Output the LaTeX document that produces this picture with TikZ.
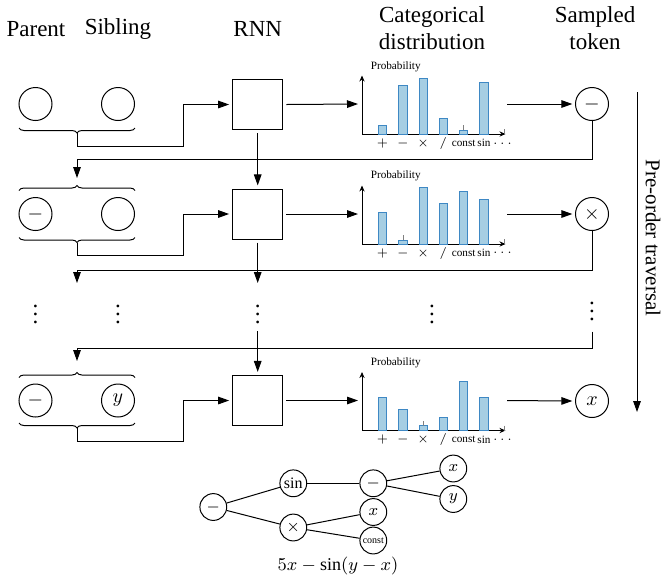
\documentclass[tikz,border=0pt]{standalone}
\usepackage{fontspec}
\setmainfont{Liberation Serif}
\usetikzlibrary{arrows.meta,decorations.pathreplacing}
\definecolor{barfill}{RGB}{166,206,227}
\definecolor{barline}{RGB}{62,136,196}

\begin{document}
\begin{tikzpicture}[x=0.5pt,y=-0.5pt,line width=0.5pt]
    \tikzstyle{every node}+=[inner sep=0pt]
    \tikzstyle{head}=[font=\fontsize{11.5}{13.5}\selectfont,align=center]
    \tikzstyle{tok}=[draw,circle,minimum size=16.5pt,outer sep=1.6pt,font=\fontsize{10}{12}\selectfont]
    \tikzstyle{rnn}=[draw,minimum size=25pt,outer sep=1.8pt]
    \tikzstyle{leaf}=[draw,circle,minimum size=13.4pt,font=\fontsize{8}{10}\selectfont]
    \tikzstyle{bar}=[draw=barline,fill=barfill,line width=0.5pt]
    \tikzstyle{tick}=[gray,line width=0.3pt]
    \tikzstyle{flow}=[-{Triangle[length=5.5pt,width=3.8pt]}]
    \tikzstyle{axis}=[line width=0.4pt,-{Stealth[length=3pt,width=2.6pt]}]
    \tikzstyle{cue}=[font=\fontsize{5.6}{6}\selectfont]
    \tikzstyle{sym}=[font=\fontsize{6.5}{7}\selectfont]
    \tikzstyle{word}=[font=\fontsize{5.6}{6}\selectfont]
    \tikzstyle{wrapup}=[decorate,decoration={brace,amplitude=2.5pt}]
    \tikzstyle{wrapdown}=[decorate,decoration={brace,mirror,amplitude=2.5pt}]
    \useasboundingbox (0,0) rectangle (663,580);
    % column heads
    \node[head] (parhead) at (36,29) {Parent};
    \node[head] (sibhead) at (118,29) {Sibling};
    \node[head] (rnnhead) at (257.7,29) {RNN};
    \node[head] (disthead) at (432,28.5) {Categorical\\distribution};
    \node[head] (tokhead) at (595,28.5) {Sampled\\token};
    % first step
    \node[tok] (par1) at (35.5,104) {};
    \node[tok] (sib1) at (118,104) {};
    \draw[wrapdown] (19,128) -- (135,128);
    \coordinate (pb1) at (77,133);
    \node[rnn] (rnn1) at (257.7,104.5) {};
    \draw[flow] (pb1) -- (77,146) -- (183.7,146) |- (rnn1.west);
    \coordinate (din1) at (358,104);
    \coordinate (dout1) at (507,104);
    \draw[flow] (rnn1.east) -- (din1);
    \draw[axis] (362,134) -- (362,75.5);
    \draw[axis] (362,134) -- (505.5,134);
    \draw[tick] (504,129) -- (504,134);
    \draw[bar] (378.4,134) rectangle (386.7,125.7);
    \draw[bar] (398.7,134) rectangle (407,85.7);
    \draw[bar] (419,134) rectangle (427.3,78);
    \draw[bar] (439.3,134) rectangle (447.6,118);
    \draw[bar] (459.6,134) rectangle (467.9,130.3);
    \draw[bar] (479.9,134) rectangle (488.2,82);
    \draw[tick] (463.7,130.3) -- (463.7,125.3);
    \node[cue] (prob1) at (395.7,66.5) {Probability};
    \node[sym] (lplus1) at (382.5,143.3) {$+$};
    \node[sym] (lminus1) at (402.8,143.3) {$-$};
    \node[sym] (ltimes1) at (423.1,143.3) {$\times$};
    \node[sym] (ldiv1) at (443.4,143.3) {$/$};
    \node[word] (lconst1) at (463.7,143.3) {const};
    \node[word] (lsin1) at (484,143.3) {sin};
    \node[sym] (ldots1) at (502.5,143.3) {$\dots$};
    \node[tok] (out1) at (592,104) {$-$};
    \draw[flow] (dout1) -- (out1.west);
    % second step
    \coordinate (pt2) at (77,186);
    \draw[flow,shorten <=-1.6pt,shorten >=4pt] (out1.south) -- (592,159) -| (pt2);
    \draw[wrapup] (19,190.5) -- (135,190.5);
    \node[tok] (par2) at (35.5,214) {$-$};
    \node[tok] (sib2) at (118,214) {};
    \draw[wrapdown] (19,237.5) -- (135,237.5);
    \coordinate (pb2) at (77,242.5);
    \node[rnn] (rnn2) at (257.7,214) {};
    \draw[flow] (rnn1.south) -- (rnn2.north);
    \draw[flow] (pb2) -- (77,255) -- (183.7,255) |- (rnn2.west);
    \coordinate (din2) at (358,214);
    \coordinate (dout2) at (507,214);
    \draw[flow] (rnn2.east) -- (din2);
    \draw[axis] (362,244) -- (362,185.5);
    \draw[axis] (362,244) -- (505.5,244);
    \draw[tick] (504,239) -- (504,244);
    \draw[bar] (378.4,244) rectangle (386.7,212);
    \draw[bar] (398.7,244) rectangle (407,240);
    \draw[bar] (419,244) rectangle (427.3,187.7);
    \draw[bar] (439.3,244) rectangle (447.6,203.7);
    \draw[bar] (459.6,244) rectangle (467.9,191.7);
    \draw[bar] (479.9,244) rectangle (488.2,199.3);
    \draw[tick] (402.8,240) -- (402.8,235);
    \node[cue] (prob2) at (395.7,176) {Probability};
    \node[sym] (lplus2) at (382.5,253) {$+$};
    \node[sym] (lminus2) at (402.8,253) {$-$};
    \node[sym] (ltimes2) at (423.1,253) {$\times$};
    \node[sym] (ldiv2) at (443.4,253) {$/$};
    \node[word] (lconst2) at (463.7,253) {const};
    \node[word] (lsin2) at (484,253) {sin};
    \node[sym] (ldots2) at (502.5,253) {$\dots$};
    \node[tok] (out2) at (592,214) {$\times$};
    \draw[flow] (dout2) -- (out2.west);
    % skipped steps
    \coordinate (pd) at (77,283);
    \coordinate (rd) at (257.7,283);
    \draw[flow,shorten <=-1.6pt] (out2.south) -- (592,270) -| (pd);
    \draw[flow] (rnn2.south) -- (rd);
    \node[head] (dotpar) at (35.5,308) {$\vdots$};
    \node[head] (dotsib) at (118,308) {$\vdots$};
    \node[head] (dotrnn) at (257.7,308) {$\vdots$};
    \node[head] (dotdist) at (432,308) {$\vdots$};
    \node[head] (dotout) at (592,305) {$\vdots$};
    \coordinate (rc) at (592,331.5);
    \coordinate (ru) at (257.7,331);
    % last step
    \coordinate (pt3) at (77,373);
    \draw[flow,shorten >=6pt] (rc) -- (592,348.5) -| (pt3);
    \draw[wrapup] (19,377.5) -- (135,377.5);
    \node[tok] (par3) at (35.5,400.5) {$-$};
    \node[tok] (sib3) at (118,400.5) {$y$};
    \draw[wrapdown] (19,423) -- (135,423);
    \coordinate (pb3) at (77,428);
    \node[rnn] (rnn3) at (257.7,400.5) {};
    \draw[flow] (ru) -- (rnn3.north);
    \draw[flow] (pb3) -- (77,441.7) -- (183.7,441.7) |- (rnn3.west);
    \coordinate (din3) at (358,400.5);
    \coordinate (dout3) at (507,400.5);
    \draw[flow] (rnn3.east) -- (din3);
    \draw[axis] (362,430.5) -- (362,372);
    \draw[axis] (362,430.5) -- (505.5,430.5);
    \draw[tick] (504,425.5) -- (504,430.5);
    \draw[bar] (378.4,430.5) rectangle (386.7,397.8);
    \draw[bar] (398.7,430.5) rectangle (407,409.8);
    \draw[bar] (419,430.5) rectangle (427.3,425.8);
    \draw[bar] (439.3,430.5) rectangle (447.6,417.8);
    \draw[bar] (459.6,430.5) rectangle (467.9,381.8);
    \draw[bar] (479.9,430.5) rectangle (488.2,397.8);
    \draw[tick] (423.1,425.8) -- (423.1,420.8);
    \node[cue] (prob3) at (395.7,362.5) {Probability};
    \node[sym] (lplus3) at (382.5,439.5) {$+$};
    \node[sym] (lminus3) at (402.8,439.5) {$-$};
    \node[sym] (ltimes3) at (423.1,439.5) {$\times$};
    \node[sym] (ldiv3) at (443.4,439.5) {$/$};
    \node[word] (lconst3) at (463.7,439.5) {const};
    \node[word] (lsin3) at (484,439.5) {sin};
    \node[sym] (ldots3) at (502.5,439.5) {$\dots$};
    \node[tok] (out3) at (592,401) {$x$};
    \draw[flow] (dout3) -- (out3.west);
    % traversal direction
    \coordinate (trtop) at (637,92);
    \coordinate (trbot) at (637,412);
    \draw[flow] (trtop) -- (trbot);
    \node[head,font=\fontsize{10.5}{12}\selectfont,rotate=-90] (trlab) at (653,238) {Pre-order traversal};
    % expression tree
    \node[leaf] (t1) at (213.3,507) {$-$};
    \node[leaf] (t2) at (293.3,483.3) {sin};
    \node[leaf] (t3) at (293.3,527.5) {$\times$};
    \node[leaf] (t4) at (373.3,483.3) {$-$};
    \node[leaf] (t5) at (373.3,512) {$x$};
    \node[leaf] (t6) at (373.3,540.5) {\fontsize{5}{6}\selectfont const};
    \node[leaf] (t7) at (453.3,468.5) {$x$};
    \node[leaf] (t8) at (453.3,499) {$y$};
    \draw (t1) -- (t2);
    \draw (t1) -- (t3);
    \draw (t2) -- (t4);
    \draw (t3) -- (t5);
    \draw (t3) -- (t6);
    \draw (t4) -- (t7);
    \draw (t4) -- (t8);
    \node (expr) at (338,566) {\fontsize{9}{11}\selectfont $5x - \sin(y - x)$};
\end{tikzpicture}
\end{document}
